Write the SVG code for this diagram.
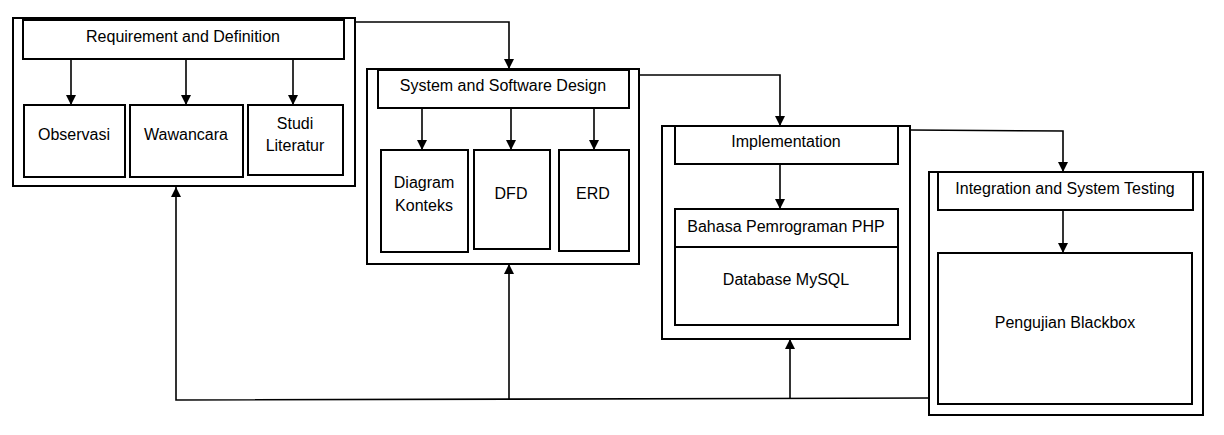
<svg xmlns="http://www.w3.org/2000/svg" width="1224" height="435" viewBox="0 0 1224 435">
<style>
.box{fill:#fff;stroke:#000;stroke-width:2}
.con{fill:none;stroke:#000;stroke-width:1.6}
text{font-family:"Liberation Sans",Arial,sans-serif;font-size:16px;fill:#000;text-anchor:middle}
</style>
<defs>
<marker id="ah" viewBox="0 0 10 10" refX="10" refY="5" markerWidth="10" markerHeight="10" markerUnits="userSpaceOnUse" orient="auto">
<path d="M0,0 L10,5 L0,10 z" fill="#000"/>
</marker>
</defs>
<rect width="1224" height="435" fill="#fff"/>
<g id="phase1">
<rect class="box" x="13" y="18" width="342" height="168"/>
<rect class="box" x="23" y="20" width="321" height="39"/>
<text x="183" y="42">Requirement and Definition</text>
<rect class="box" x="24" y="105" width="101" height="72"/>
<text x="74" y="140">Observasi</text>
<rect class="box" x="130" y="105" width="113" height="72"/>
<text x="186" y="140">Wawancara</text>
<rect class="box" x="248" y="105" width="95" height="70"/>
<text x="295" y="129">Studi</text>
<text x="295" y="151">Literatur</text>
</g>
<g id="phase2">
<rect class="box" x="367" y="69" width="272" height="195"/>
<rect class="box" x="378" y="70" width="251" height="38"/>
<text x="503" y="91">System and Software Design</text>
<rect class="box" x="381" y="150" width="87" height="102"/>
<text x="424" y="188">Diagram</text>
<text x="424" y="211">Konteks</text>
<rect class="box" x="474" y="150" width="76" height="99"/>
<text x="511" y="199">DFD</text>
<rect class="box" x="559" y="150" width="70" height="101"/>
<text x="593" y="199">ERD</text>
</g>
<g id="phase3">
<rect class="box" x="662" y="126" width="248" height="213"/>
<rect class="box" x="675" y="126" width="223" height="38"/>
<text x="786" y="147">Implementation</text>
<rect class="box" x="675" y="209" width="223" height="116"/>
<line x1="675" y1="247" x2="898" y2="247" stroke="#000" stroke-width="2"/>
<text x="786" y="232">Bahasa Pemrograman PHP</text>
<text x="786" y="285">Database MySQL</text>
</g>
<g id="phase4">
<rect class="box" x="929" y="172" width="274" height="243"/>
<rect class="box" x="938" y="172" width="255" height="38"/>
<text x="1065" y="194">Integration and System Testing</text>
<rect class="box" x="938" y="253" width="254" height="151"/>
<text x="1065" y="328">Pengujian Blackbox</text>
</g>
<g id="connectors">
<line class="con" x1="71" y1="59" x2="71" y2="105" marker-end="url(#ah)"/>
<line class="con" x1="186" y1="59" x2="186" y2="105" marker-end="url(#ah)"/>
<line class="con" x1="293" y1="59" x2="293" y2="105" marker-end="url(#ah)"/>
<line class="con" x1="422" y1="108" x2="422" y2="150" marker-end="url(#ah)"/>
<line class="con" x1="511" y1="108" x2="511" y2="150" marker-end="url(#ah)"/>
<line class="con" x1="594" y1="108" x2="594" y2="150" marker-end="url(#ah)"/>
<line class="con" x1="780" y1="164" x2="780" y2="209" marker-end="url(#ah)"/>
<line class="con" x1="1063" y1="210" x2="1063" y2="253" marker-end="url(#ah)"/>
<polyline class="con" points="355,22 509,22 509,69" marker-end="url(#ah)"/>
<polyline class="con" points="639,75 780,75 780,126" marker-end="url(#ah)"/>
<polyline class="con" points="910,130 1063,131 1063,172" marker-end="url(#ah)"/>
<polyline class="con" points="929,398 176,400 176,187" marker-end="url(#ah)"/>
<line class="con" x1="509" y1="400" x2="509" y2="264" marker-end="url(#ah)"/>
<line class="con" x1="790" y1="399" x2="790" y2="339" marker-end="url(#ah)"/>
</g>
</svg>
